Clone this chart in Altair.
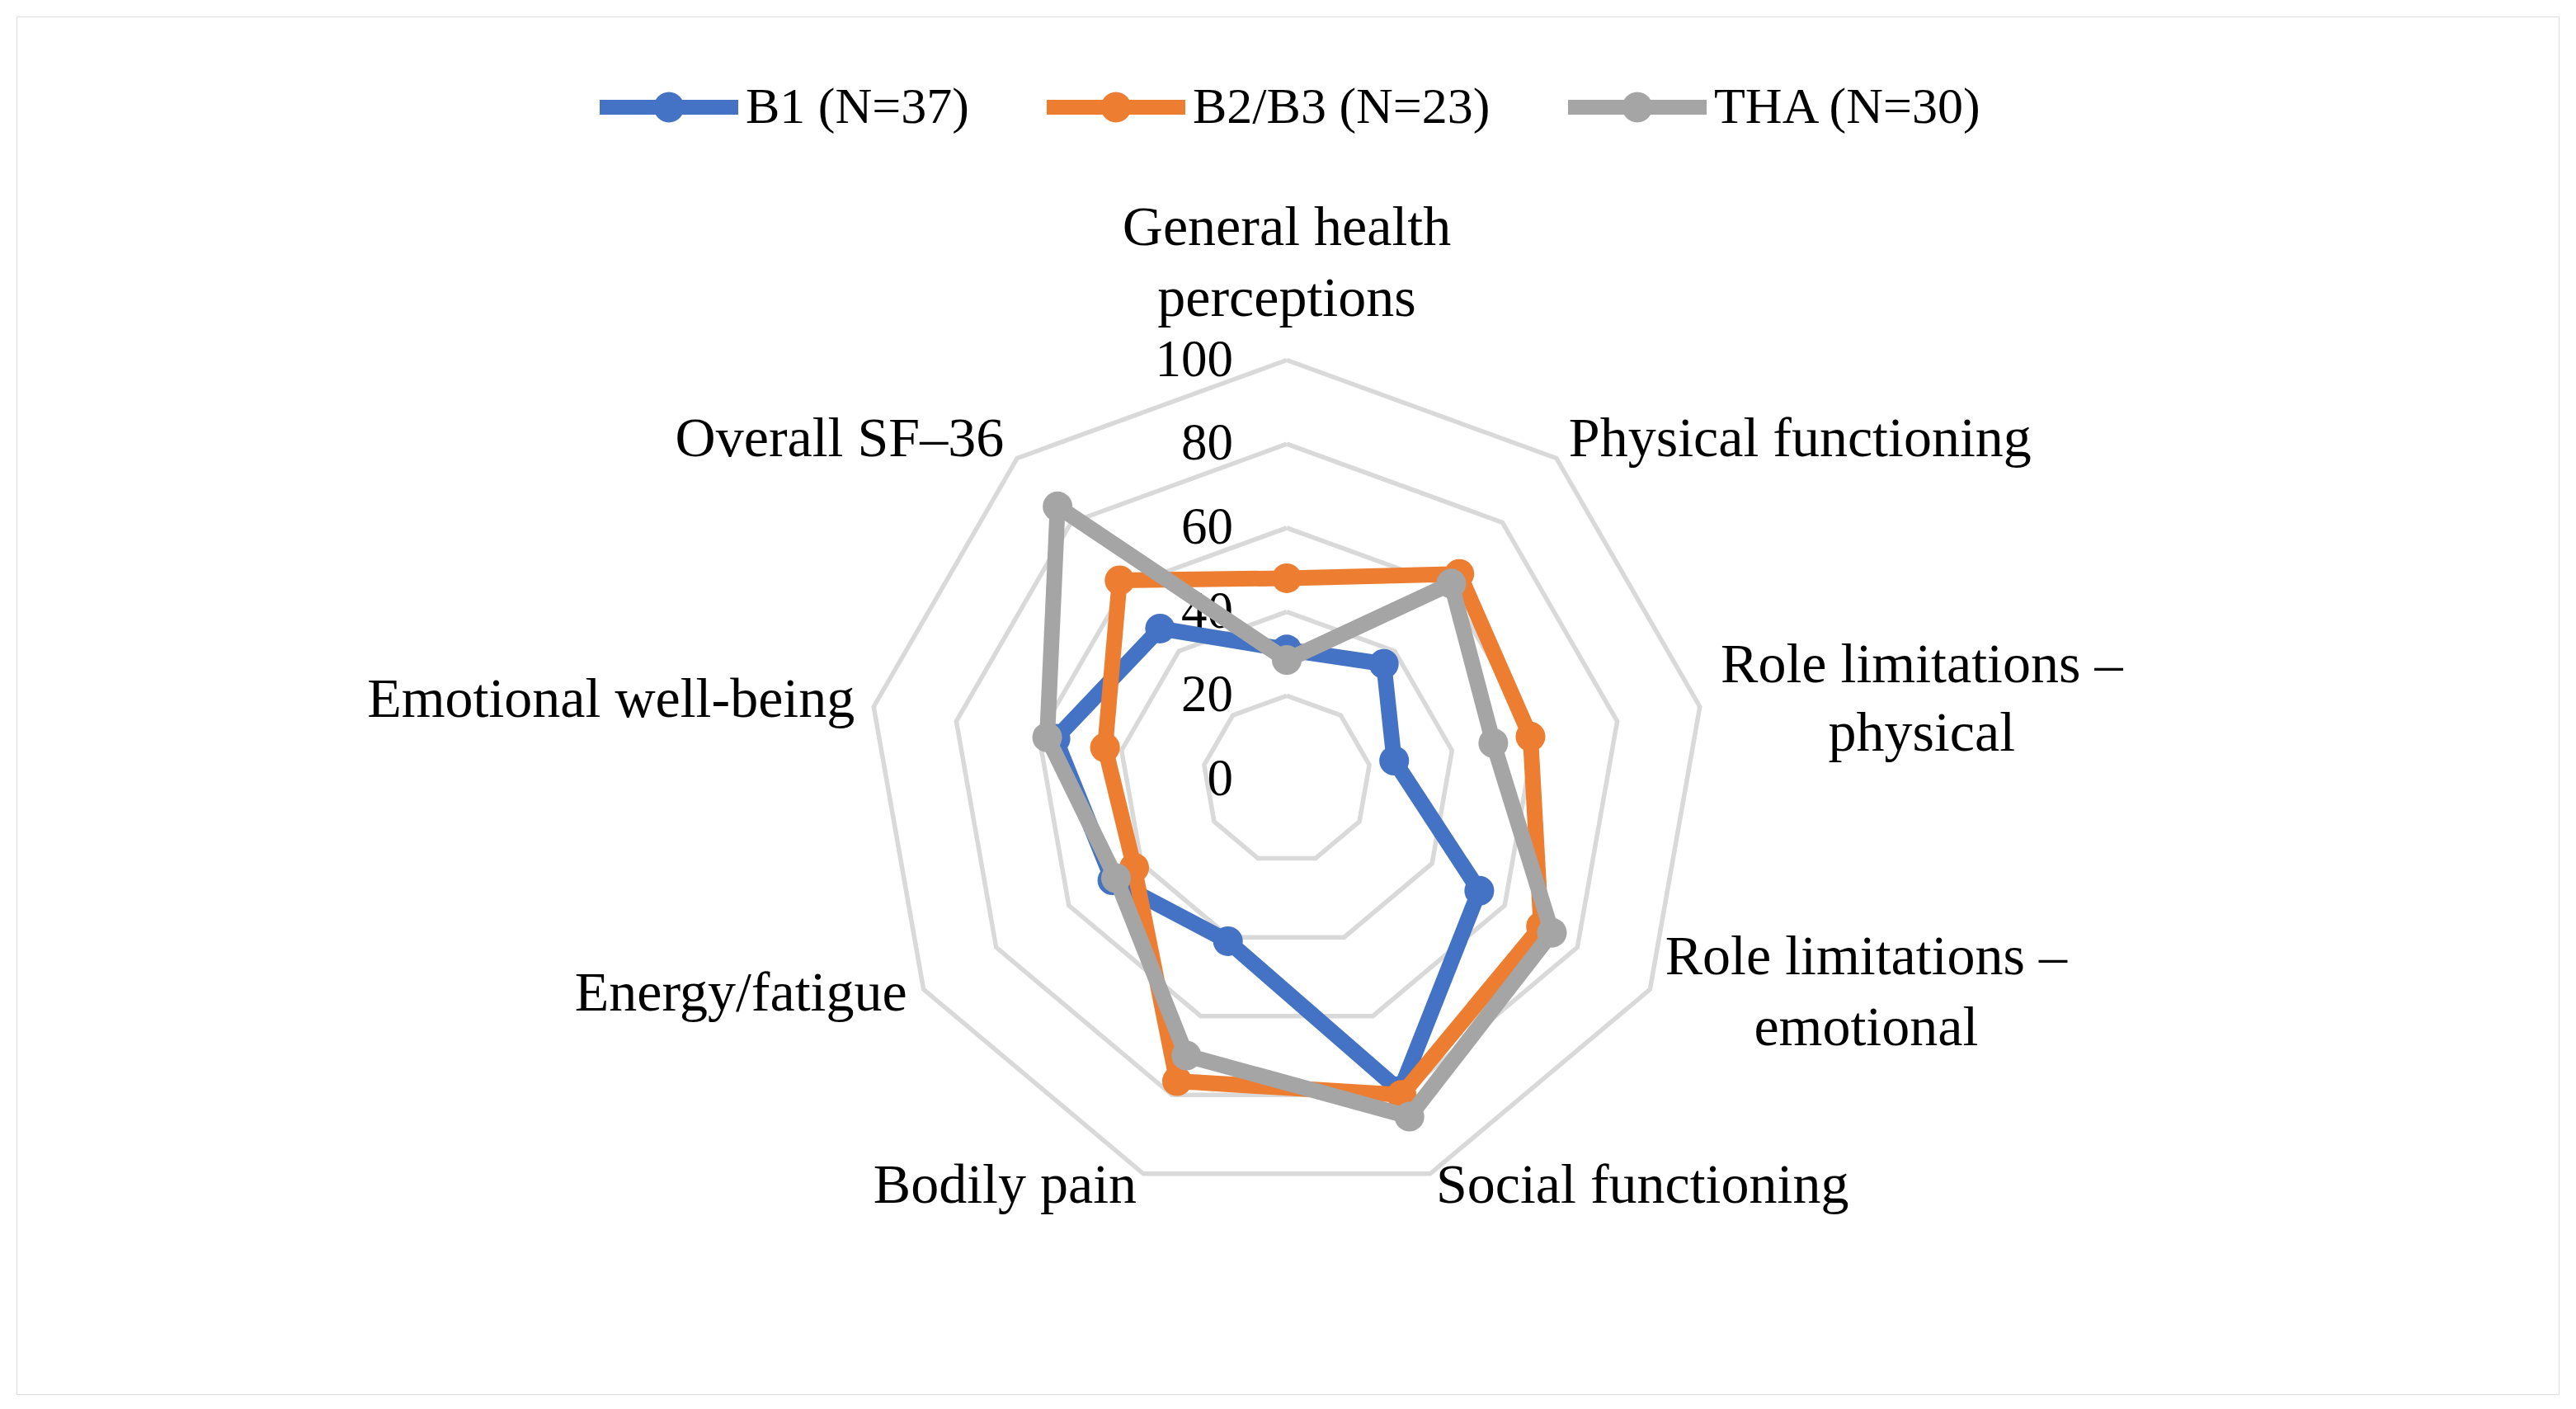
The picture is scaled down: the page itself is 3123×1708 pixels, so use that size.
import altair as alt
import pandas as pd
import numpy as np

# ---------------- data ----------------
CATEGORIES = ["General health perceptions", "Physical functioning",
              "Role limitations – physical", "Role limitations – emotional",
              "Social functioning", "Bodily pain", "Energy/fatigue",
              "Emotional well-being", "Overall SF–36"]
LABEL_LINES = [["General health", "perceptions"], ["Physical functioning"],
               ["Role limitations –", "physical"], ["Role limitations –", "emotional"],
               ["Social functioning"], ["Bodily pain"], ["Energy/fatigue"],
               ["Emotional well-being"], ["Overall SF–36"]]
SERIES = ["B1 (N=37)", "B2/B3 (N=23)", "THA (N=30)"]
B1 = [31, 36, 26, 53, 79, 41, 48, 56, 47]
B2B3 = [48, 64, 59, 70, 80, 76.5, 42, 44, 62]
THA = [28.5, 61, 50, 73, 85.5, 70, 47, 58, 85]
TICKS = [0, 20, 40, 60, 80, 100]
RINGS = [20, 40, 60, 80, 100]

# ---------------- styling / layout ----------------
COLORS = ["#4472C4", "#ED7D31", "#A5A5A5"]
GRID = "#D9D9D9"
FONT = "Liberation Serif"
FS = 68
TFS = 63
LFS = 62
W, H = 3082, 1670          # plot area (= framed box)
CX, CY = 1540, 925         # radar centre inside plot area (px)
K = 5.085                  # px per value unit
XDOM = [-CX / K, (W - CX) / K]
YDOM = [-(H - CY) / K, CY / K]
N = len(CATEGORIES)
# label anchor offsets (px, screen) from the 100-ring vertex, and alignment
LABEL_LAYOUT = [
    ("center", [(0, -160), (0, -74)]),
    ("left", [(15, -22)]),
    ("center", [(269, -50), (269, 33)]),
    ("center", [(262, -38), (262, 48)]),
    ("left", [(7, 15)]),
    ("right", [(-8, 15)]),
    ("right", [(-20, 6)]),
    ("right", [(-23, -8)]),
    ("right", [(-16, -22)]),
]

values = {SERIES[0]: B1, SERIES[1]: B2B3, SERIES[2]: THA}
rows = []
for s in SERIES:
    v = values[s]
    for i in range(N + 1):
        rows.append({"series": s, "idx": i, "value": v[i % N],
                     "category": CATEGORIES[i % N]})
df = pd.DataFrame(rows)

grid_rows = []
for r in RINGS:
    for i in range(N + 1):
        grid_rows.append({"ring": r, "idx": i, "value": r})
grid_df = pd.DataFrame(grid_rows)

tick_df = pd.DataFrame({"tick": TICKS, "zero": [0] * len(TICKS),
                        "label": [str(t) for t in TICKS]})

lab_rows = []
for i, (lines, (align, offs)) in enumerate(zip(LABEL_LINES, LABEL_LAYOUT)):
    a = 2 * np.pi * i / N
    vx, vy = 100 * np.sin(a), 100 * np.cos(a)
    for line, (ox, oy) in zip(lines, offs):
        lab_rows.append({"text": line, "align": align,
                         "lx": vx + ox / K, "ly": vy - oy / K})
lab_df = pd.DataFrame(lab_rows)

xs = alt.Scale(domain=XDOM, nice=False, zero=False)
ys = alt.Scale(domain=YDOM, nice=False, zero=False)
color_scale = alt.Scale(domain=SERIES, range=COLORS)

polar = dict(angle=f"datum.idx * 2 * PI / {N}")
xcalc = "datum.value * sin(datum.angle)"
ycalc = "datum.value * cos(datum.angle)"

grid = alt.Chart(grid_df).transform_calculate(**polar).transform_calculate(
    px=xcalc, py=ycalc
).mark_line(color=GRID, strokeWidth=5.5, strokeJoin="miter").encode(
    x=alt.X("px:Q", scale=xs, axis=None),
    y=alt.Y("py:Q", scale=ys, axis=None),
    detail="ring:N",
    order="idx:Q",
)

ticks = alt.Chart(tick_df).mark_text(
    align="right", baseline="middle", dx=-65, font=FONT, fontSize=TFS, color="black"
).encode(
    x=alt.X("zero:Q", scale=xs, axis=None),
    y=alt.Y("tick:Q", scale=ys, axis=None),
    text="label:N",
)

label_layers = []
for al in ["left", "right", "center"]:
    label_layers.append(
        alt.Chart(lab_df).transform_filter(f"datum.align == '{al}'").mark_text(
            align=al, baseline="middle", font=FONT, fontSize=FS, color="black"
        ).encode(
            x=alt.X("lx:Q", scale=xs, axis=None),
            y=alt.Y("ly:Q", scale=ys, axis=None),
            text="text:N",
        )
    )

SYMBOL = ("M-1,-0.107 L1,-0.107 L1,0.107 L-1,0.107 Z "
          "M0.22,0 A0.22,0.22 0 1,1 -0.22,0 A0.22,0.22 0 1,1 0.22,0 Z")
legend = alt.Legend(
    orient="none", legendX=707, legendY=26, direction="horizontal", title=None,
    symbolType=SYMBOL, symbolSize=28224, symbolStrokeWidth=0, symbolOpacity=1,
    labelFont=FONT, labelFontSize=LFS, labelColor="black", labelOffset=9,
    columnPadding=94, padding=0, labelLimit=1000,
)

series_layers = []
for s in SERIES:
    base = alt.Chart(df).transform_filter(alt.datum.series == s).transform_calculate(
        **polar).transform_calculate(px=xcalc, py=ycalc)
    line = base.mark_line(strokeWidth=19, strokeJoin="round", strokeCap="round").encode(
        x=alt.X("px:Q", scale=xs, axis=None),
        y=alt.Y("py:Q", scale=ys, axis=None),
        color=alt.Color("series:N", scale=color_scale, legend=legend),
        order="idx:Q",
    )
    pts = base.transform_filter("datum.idx < %d" % N).mark_circle(size=1300, opacity=1).encode(
        x=alt.X("px:Q", scale=xs, axis=None),
        y=alt.Y("py:Q", scale=ys, axis=None),
        color=alt.Color("series:N", scale=color_scale, legend=legend),
    )
    series_layers += [line, pts]

chart = alt.layer(grid, ticks, *label_layers, *series_layers).properties(
    width=W, height=H,
    padding={"left": 12, "top": 12, "right": 8, "bottom": 6},
).configure_view(stroke=GRID, strokeWidth=6).configure(background="white")

chart.save("out.html", embed_options={"renderer": "svg", "actions": False})
